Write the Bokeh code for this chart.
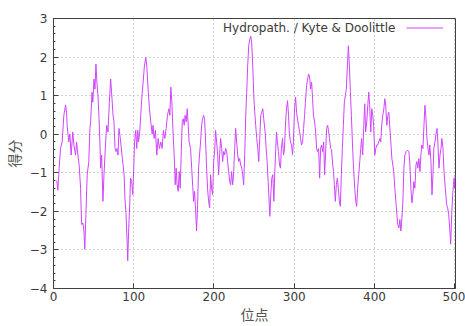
from bokeh.plotting import figure
from bokeh.models import Range1d, FixedTicker, Label, Legend, LegendItem
from bokeh.embed import file_html
from bokeh.resources import INLINE

# ---- data (residue position, Kyte & Doolittle score) ----
position = [
    4, 5.4, 7, 8.75, 10.8, 12.9, 15, 16.25, 17, 19, 20.4, 22, 24, 25.4, 27.5, 28.75, 30.4, 32,
    33.75, 35, 36.6, 37.9, 39, 40.4, 42, 44, 45.4, 46.25, 48, 49, 50.4, 51.7, 52.9, 54.1, 55.4,
    56.6, 57.9, 58.75, 60, 61.6, 62.9, 65, 66.25, 67.9, 69.6, 71.25, 72.9, 74.2, 75.4, 76.7,
    77.9, 79.1, 80.4, 81.6, 83.3,
    85.8, 88, 89, 90.4, 91.7, 92.5, 93.75, 95, 96, 97.5, 98.75, 100, 101, 102.5, 103.75, 105,
    106, 107.5, 108.75, 110, 111.7, 113.3, 115, 116.25, 117.9, 119.6, 121.25, 123, 124, 125.4,
    127, 128.75, 130.4, 132, 133.75, 135.4, 137, 138.75, 140.4, 142, 143.75, 145, 146.25,
    147.5, 148.75, 150.4, 151.7, 152.9, 154, 155.4, 156.7, 157.9, 159, 160.4, 161.7, 162.9,
    164, 165.4, 166.7, 167.9, 169, 170.8,
    172.3, 173.5, 174.6, 175.8, 177, 178.3, 179.6, 180.8, 182, 183.3, 184.6, 185.8, 187, 188.3,
    189.6, 190.8, 192, 193.3, 194.6, 195.8, 197, 198.3, 199.6, 200.8, 202, 203.3, 204.6, 205.8,
    207, 208.3, 209.6, 210.8, 212, 213.3, 214.6, 215.8, 217, 218.3, 219.6, 220.8, 222, 223.3,
    224.6, 225.8, 227, 228.3, 229.6, 230.8, 232, 233.3, 234.6, 235.8, 237, 238.3, 239.6, 240.8,
    242, 243.3, 244.6, 245.8, 247, 248.3, 249.6, 250.8, 252, 253.3, 254.6, 255.8, 257, 258.3,
    259.6, 260.8,
    262, 263.75, 265, 266.25, 267.5, 268.75, 269.6, 270.8, 272, 273.3, 274.6, 275.8, 277, 277.9,
    279, 280.4, 281.7, 282.9, 284, 285.4, 286.7, 287.9, 289, 290.4, 291.7, 292.9, 294, 295.4,
    296.7, 297.9, 299, 300.4, 301.7, 302.9, 304, 305.4, 306.7, 307.9, 309, 310.4, 311.7, 312.9,
    314, 315.4, 316.7, 317.9, 319, 320.4, 321.7, 322.9, 324, 325.4, 326.7, 327.9, 329, 330.4,
    331.7, 332.9, 334, 335.4, 336.7, 337.9, 339, 340.4, 341.7, 342.9, 344, 345.4,
    346.5, 348, 349, 350, 351.25, 352.5, 353.75, 355, 356.25, 357.5, 358.75, 360, 361.25, 362.5,
    363.75, 365, 366.25, 367.5, 368.75, 370, 371.25, 372.5, 373.75, 375.4, 376.7, 377.9, 379,
    380.4, 381.7, 382.9, 384, 385.4, 386.7, 387.9, 389, 390.4, 391.7, 392.9, 394, 395.4, 396.7,
    397.9, 399, 400.4, 401.7, 402.9, 404, 405.4, 406.7, 407.9, 409, 410.4, 411.7, 412.9, 414,
    415.4, 416.7, 417.9, 419, 420.4, 421.7, 422.9, 424, 425.4, 426.7, 427.9, 429, 430.4, 431.7,
    432.9, 434, 435.4,
    436.7, 437.9, 439.6, 441.25, 442.9, 444, 445.4, 446.7, 447.9, 449, 450.4, 451.7, 452.9, 454,
    455.4, 456.7, 457.9, 459, 460.4, 461.7, 462.9, 464, 465.4, 466.7, 467.9, 469, 470.4, 471.7,
    472.9, 474, 475.4, 476.7, 477.9, 479, 480.4, 481.7, 482.9, 484, 485.4, 486.7, 488.3, 490,
    491.25, 492.5, 493.75, 495, 496.25, 497.5, 498.5, 499.3, 500, 500.6,
]
score = [
    -1.2, -1.45, -0.9, -0.37, -0.2, 0.49, 0.76, 0.57, 0.23, -0.2, 0, -0.54, 0.06, -0.28, -0.54,
    -0.2, -0.54, -0.8, -1.4, -2.34, -2.3, -2.5, -2.98, -2.08, -1.05, -0.71, 0.15, 0.32, 1.09,
    0.83, 1.43, 1.17, 1.82, 1.35, 1.0, 0.49, -0.28, -0.88, -0.54, -1.74, -1.05, -0.2, 0.23, 0.06,
    0.83, 1.43, 0.92, 0.49, 0.32, -0.37, -0.45, -0.37, -0.54, 0.15, -0.11,
    -0.63, -1.05, -1.65, -2.08, -2.77, -3.28, -2.43, -1.83, -1.14, -1.23, -1.57, -0.88, -0.2,
    0.1, -0.37, 0.1, -0.2, 0.06, 0.49, 0.92, 1.35, 1.77, 1.99, 1.77, 1.17, 0.66, 0.32, 0, 0.23,
    -0.11, 0.1, -0.54, -0.11, -0.37, -0.2, -0.37, 0.1, -0.11, 0.15, 0.49, 0.66, 0.49, 1.22,
    0.83, 0.15, -0.54, -1.31, -0.88, -1.31, -1.48, -0.97, -1.4, -0.63, 0.32, 0.4, 0.23, 0.49,
    0.32, 0.66, 0.23, -0.2, -0.37,
    -0.9, -1.35, -1.74, -1.48, -1.91, -2.51, -1.83, -0.88, -0.54, -0.2, 0.23, 0.4, 0.49, 0.4,
    -0.2, -0.88, -1.4, -1.74, -1.91, -1.05, -1.4, -1.57, -0.71, -0.46, 0.1, -0.2, -0.54, -1.05,
    -0.54, -0.11, -0.37, -0.71, -0.45, -0.54, -0.37, -0.45, -0.71, -0.97, -1.23, -1.31, -0.97,
    -1.31, -0.97, -0.37, 0.15, -0.2, -0.54, -0.71, -0.63, -0.8, -0.88, -1.05, -1.31, -0.54,
    0.49, 1.09, 1.77, 2.29, 2.46, 2.54, 2.37, 1.77, 1.0, 0.57, 0.23, -0.11, -0.37, -0.71,
    -0.11, 0.49, 0.57, 0.66,
    0.4, 0.06, -0.37, -0.71, -1.23, -1.74, -2.13, -1.57, -1.14, -1.05, -1.74, -0.97, -0.37,
    0.06, -0.2, -0.45, -0.8, -0.88, -0.37, -0.11, -0.54, -0.37, 0.23, 0.66, 0.87, 0.49, 0,
    -0.2, -0.28, -0.54, -0.2, 0.66, 0.96, 0.57, 0.4, 0.23, 0.06, -0.11, -0.28, -0.2, 0.15, 0.49,
    0.83, 1.26, 1.43, 1.56, 1.52, 1.17, 1.35, 0.92, 0.49, 0.32, 0.06, -0.37, -0.45, -0.37,
    -1.14, -0.37, -0.28, -0.45, -0.2, -1.05, -0.54, 0.15, 0.23, 0.06, -0.11, -0.37,
    -0.4, -0.8, -0.97, -1.31, -1.74, -1.31, -1.14, -1.4, -1.74, -1.87, -1.05, -0.37, 0.23, 0.83,
    1.0, 1.17, 1.77, 2.29, 1.77, 1.09, 0.49, -0.2, -0.8, -1.4, -1.74, -1.87, -1.4, -1.05, -0.71,
    -0.37, -0.11, -0.54, 0.23, 0.79, 0.06, 0.32, 0.75, 1.09, 0.75, 0.06, 0.66, 0.49, 0.23,
    -0.54, -0.37, -0.28, -0.28, -0.2, -0.11, -0.2, 0.23, 0.49, 0.66, 0.92, 0.75, 0.23, 0.49,
    0.57, 0.23, -0.2, -0.63, -0.8, -0.97, -1.4, -1.74, -2.08, -2.34, -2.43, -2.21, -2.51, -2.25,
    -1.74,
    -0.88, -0.54, -0.45, -0.41, -0.45, -0.71, -1.4, -1.78, -1.57, -1.23, -1.4, -0.8, -0.71,
    -0.88, -0.63, -0.97, -0.54, -0.28, -0.37, 0.23, 0.75, 0.49, -0.11, -0.37, -0.54, -0.28,
    -0.71, -1.57, -1.05, -0.37, -0.2, 0, 0.15, -0.2, -0.88, -0.54, -0.37, -0.11, -0.37, -0.97,
    -1.4, -1.83, -1.91, -2.08, -2.43, -2.85, -2.08, -1.57, -1.31, -1.14, -1.4, -1.05,
]

x_ticks = [0, 100, 200, 300, 400, 500]
y_ticks = [-4, -3, -2, -1, 0, 1, 2, 3]
series_label = "Hydropath. / Kyte & Doolittle"
x_title = "位点"
y_title = "得分"

LINE_COLOR = "#cf45ff"
AXIS_COLOR = "#404040"
TEXT_COLOR = "#3a3a3a"
GRID_COLOR = "#a8a8a8"

p = figure(width=465, height=326, output_backend="svg", toolbar_location=None,
           x_range=Range1d(0, 501), y_range=Range1d(-4, 3),
           min_border_left=53, min_border_right=10, min_border_top=18, min_border_bottom=37,
           x_axis_label=x_title, y_axis_label=y_title)

p.background_fill_color = "white"
p.border_fill_color = "white"
p.outline_line_color = AXIS_COLOR
p.outline_line_width = 1

r = p.line(position, score, line_color=LINE_COLOR, line_width=1)

# grid
for g, t in ((p.xgrid, x_ticks), (p.ygrid, y_ticks)):
    g.ticker = FixedTicker(ticks=t)
    g.grid_line_color = GRID_COLOR
    g.grid_line_dash = "1 3"
    g.grid_line_width = 1

# axes
xa = p.xaxis[0]
ya = p.yaxis[0]
xa.ticker = FixedTicker(ticks=x_ticks)
ya.ticker = FixedTicker(ticks=y_ticks, minor_ticks=[v / 5 for v in range(-20, 16)])
for ax in (xa, ya):
    ax.axis_line_color = AXIS_COLOR
    ax.major_tick_line_color = AXIS_COLOR
    ax.minor_tick_line_color = AXIS_COLOR
    ax.major_tick_in = 5
    ax.major_tick_out = 0
    ax.minor_tick_in = 2
    ax.minor_tick_out = 0
    ax.major_label_text_font = "DejaVu Sans"
    ax.major_label_text_font_size = "12px"
    ax.major_label_text_color = TEXT_COLOR
    ax.axis_label_text_font = "Noto Sans CJK SC"
    ax.axis_label_text_font_size = "14px"
    ax.axis_label_text_font_style = "normal"
    ax.axis_label_text_color = "#555555"
xa.minor_tick_line_color = None
xa.major_label_standoff = 3
xa.axis_label_standoff = 0
ya.major_label_standoff = 6
ya.axis_label_standoff = 3

# gnuplot-style key: text on the left, sample line on the right
legend = Legend(items=[LegendItem(label=" ", renderers=[r])], location="top_right",
                glyph_width=37, glyph_height=19, label_height=19, label_width=7,
                label_standoff=5, padding=0, margin=0, spacing=0,
                background_fill_alpha=0, border_line_alpha=0,
                label_text_font_size="12px")
p.add_layout(legend)
p.add_layout(Label(x=342, y=261, x_units="screen", y_units="screen", text=series_label,
                   text_align="right", text_baseline="middle",
                   text_font="DejaVu Sans", text_font_size="12px",
                   text_color=TEXT_COLOR))

open("out.html", "w").write(file_html(p, INLINE))
